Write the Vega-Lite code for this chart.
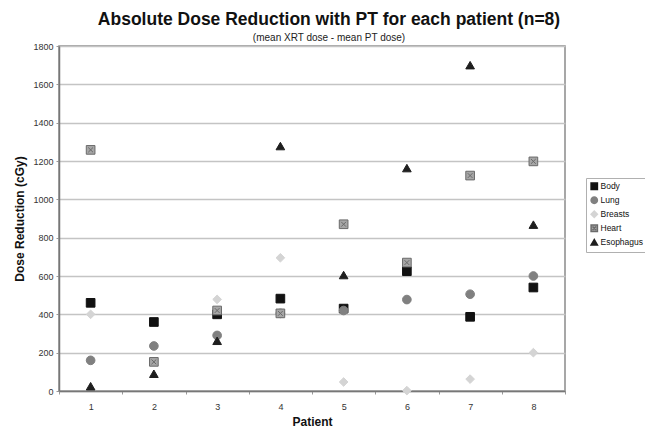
{
  "$schema": "https://vega.github.io/schema/vega-lite/v6.json",
  "width": 506,
  "height": 345,
  "autosize": "none",
  "padding": {"left": 59, "top": 46, "right": 80, "bottom": 38},
  "background": "white",
  "title": {
    "text": "Absolute Dose Reduction with PT for each patient (n=8)",
    "subtitle": "(mean XRT dose - mean PT dose)",
    "anchor": "middle",
    "dx": 17,
    "offset": -1,
    "font": "Liberation Sans",
    "fontSize": 17.5,
    "fontWeight": "bold",
    "color": "#111",
    "subtitleFont": "Liberation Sans",
    "subtitleFontSize": 10,
    "subtitleColor": "#222",
    "subtitlePadding": 5
  },
  "config": {
    "view": {"stroke": "#8a8a8a", "strokeWidth": 1.5},
    "axis": {
      "labelFont": "Liberation Sans",
      "labelFontSize": 9,
      "labelColor": "#333",
      "titleFont": "Liberation Sans",
      "titleFontSize": 12,
      "titleFontWeight": "bold",
      "titleColor": "#111",
      "domainColor": "#777",
      "domainWidth": 1.5,
      "tickColor": "#999"
    }
  },
  "data": {
    "values": [
      {"patient": 1, "organ": "Body", "dose": 460},
      {"patient": 2, "organ": "Body", "dose": 360},
      {"patient": 3, "organ": "Body", "dose": 400},
      {"patient": 4, "organ": "Body", "dose": 482},
      {"patient": 5, "organ": "Body", "dose": 430},
      {"patient": 6, "organ": "Body", "dose": 625},
      {"patient": 7, "organ": "Body", "dose": 387},
      {"patient": 8, "organ": "Body", "dose": 540},
      {"patient": 1, "organ": "Lung", "dose": 160},
      {"patient": 2, "organ": "Lung", "dose": 235},
      {"patient": 3, "organ": "Lung", "dose": 290},
      {"patient": 4, "organ": "Lung", "dose": 405},
      {"patient": 5, "organ": "Lung", "dose": 420},
      {"patient": 6, "organ": "Lung", "dose": 477},
      {"patient": 7, "organ": "Lung", "dose": 505},
      {"patient": 8, "organ": "Lung", "dose": 600},
      {"patient": 1, "organ": "Breasts", "dose": 400},
      {"patient": 3, "organ": "Breasts", "dose": 478},
      {"patient": 4, "organ": "Breasts", "dose": 695},
      {"patient": 5, "organ": "Breasts", "dose": 47},
      {"patient": 6, "organ": "Breasts", "dose": 2},
      {"patient": 7, "organ": "Breasts", "dose": 62},
      {"patient": 8, "organ": "Breasts", "dose": 200},
      {"patient": 1, "organ": "Heart", "dose": 1258},
      {"patient": 2, "organ": "Heart", "dose": 152},
      {"patient": 3, "organ": "Heart", "dose": 420},
      {"patient": 4, "organ": "Heart", "dose": 405},
      {"patient": 5, "organ": "Heart", "dose": 870},
      {"patient": 6, "organ": "Heart", "dose": 670},
      {"patient": 7, "organ": "Heart", "dose": 1124},
      {"patient": 8, "organ": "Heart", "dose": 1198},
      {"patient": 1, "organ": "Esophagus", "dose": 25},
      {"patient": 2, "organ": "Esophagus", "dose": 90},
      {"patient": 3, "organ": "Esophagus", "dose": 262},
      {"patient": 4, "organ": "Esophagus", "dose": 1278},
      {"patient": 5, "organ": "Esophagus", "dose": 605},
      {"patient": 6, "organ": "Esophagus", "dose": 1163},
      {"patient": 7, "organ": "Esophagus", "dose": 1700},
      {"patient": 8, "organ": "Esophagus", "dose": 868}
    ]
  },
  "mark": {"type": "point", "filled": true, "size": 75, "strokeWidth": 1, "opacity": 1},
  "encoding": {
    "x": {
      "field": "patient",
      "type": "ordinal",
      "title": "Patient",
      "scale": {"paddingInner": 0, "paddingOuter": 0},
      "axis": {
        "labelAngle": 0,
        "tickBand": "extent",
        "tickSize": 3,
        "labelPadding": 8,
        "titlePadding": 5,
        "grid": false
      }
    },
    "y": {
      "field": "dose",
      "type": "quantitative",
      "title": "Dose Reduction (cGy)",
      "scale": {"domain": [0, 1800], "nice": false},
      "axis": {
        "values": [0, 200, 400, 600, 800, 1000, 1200, 1400, 1600, 1800],
        "format": "d",
        "tickSize": 3,
        "labelPadding": 3,
        "titlePadding": 6,
        "grid": true,
        "gridColor": "#c4c4c4",
        "gridWidth": 1.6
      }
    },
    "shape": {
      "field": "organ",
      "type": "nominal",
      "sort": ["Body", "Lung", "Breasts", "Heart", "Esophagus"],
      "scale": {
        "domain": ["Body", "Lung", "Breasts", "Heart", "Esophagus"],
        "range": ["square", "circle", "diamond", "M-1,-1H1V1H-1Z M-0.55,-0.55L0.55,0.55 M0.55,-0.55L-0.55,0.55", "triangle-up"]
      },
      "legend": {
        "title": null,
        "orient": "none",
        "legendX": 527,
        "legendY": 132,
        "labelFont": "Liberation Sans",
        "labelFontSize": 8.5,
        "labelColor": "#111",
        "symbolSize": 40,
        "rowPadding": 1,
        "padding": 4,
        "labelOffset": 2,
        "strokeColor": "#b0b0b0",
        "fillColor": "white"
      }
    },
    "fill": {
      "field": "organ",
      "type": "nominal",
      "scale": {
        "domain": ["Body", "Lung", "Breasts", "Heart", "Esophagus"],
        "range": ["#111111", "#808080", "#d4d4d4", "#a6a6a6", "#1e1e1e"]
      }
    },
    "stroke": {
      "field": "organ",
      "type": "nominal",
      "scale": {
        "domain": ["Body", "Lung", "Breasts", "Heart", "Esophagus"],
        "range": ["#111111", "#808080", "#d4d4d4", "#6a6a6a", "#1e1e1e"]
      }
    }
  }
}
